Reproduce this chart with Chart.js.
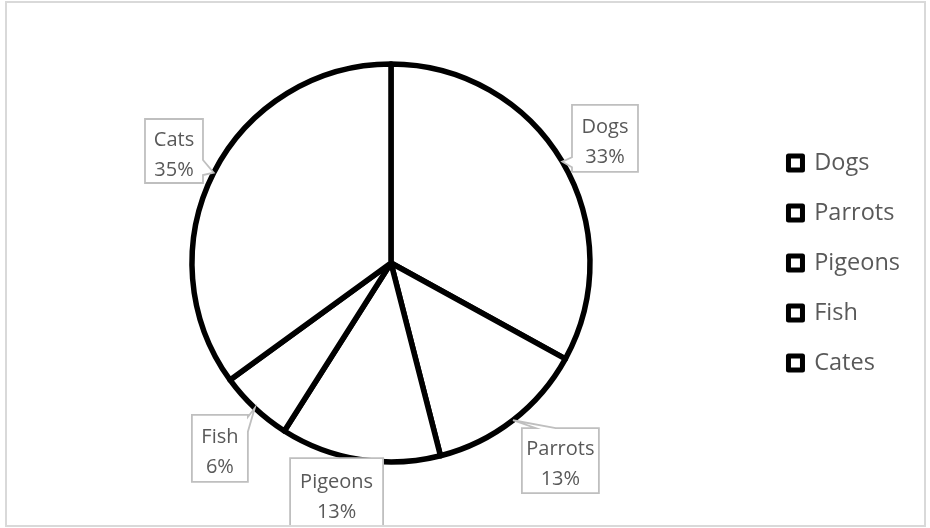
<!DOCTYPE html>
<html><head><meta charset="utf-8">
<script src="https://cdn.jsdelivr.net/npm/chart.js@4"></script>
<style>html,body{margin:0;padding:0;background:#fff}#wrap{width:930px;height:528px;position:relative}</style>
</head><body><div id="wrap"><canvas id="c" width="930" height="528"></canvas></div>
<script>
// ---- data ----
const categories = ['Dogs', 'Parrots', 'Pigeons', 'Fish', 'Cates'];
const calloutNames = ['Dogs', 'Parrots', 'Pigeons', 'Fish', 'Cats'];
const shares = [33, 13, 13, 6, 35];

// ---- callout layout (styles / placement relative to each slice) ----
const calloutLayout = [
  {da: 0.4,  d: 48.6, w: 66, h: 67, side: 'left',  b0: 0.78, b1: 0.93},
  {da: -2.8, d: 61.3, w: 77, h: 65, side: 'top',   b0: 0.18, b1: 0.44},
  {da: 4.3,  d: 37.4, w: 93, h: 70, side: null},
  {da: -0.5, d: 53.3, w: 56, h: 67, side: 'right', b0: 0.03, b1: 0.25},
  {da: 0.3,  d: 45.2, w: 58, h: 64, side: 'right', b0: 0.64, b1: 0.875}
];

const calloutPlugin = {
  id: 'callouts',
  afterDatasetsDraw(chart) {
    const ctx = chart.ctx;
    const meta = chart.getDatasetMeta(0);
    const total = shares.reduce((a, b) => a + b, 0);
    ctx.save();
    ctx.beginPath(); ctx.rect(7, 3, 917, 522); ctx.clip();
    meta.data.forEach((arc, i) => {
      const p = arc.getProps(['x', 'y', 'startAngle', 'endAngle', 'outerRadius'], true);
      const L = calloutLayout[i];
      const mid = (p.startAngle + p.endAngle) / 2;
      const tx = p.x + Math.cos(mid) * p.outerRadius;
      const ty = p.y + Math.sin(mid) * p.outerRadius;
      const a = mid + L.da * Math.PI / 180;
      const cx = p.x + Math.cos(a) * (p.outerRadius + L.d);
      const cy = p.y + Math.sin(a) * (p.outerRadius + L.d);
      const l = cx - L.w / 2, r = cx + L.w / 2, t = cy - L.h / 2, b = cy + L.h / 2;
      ctx.beginPath();
      ctx.moveTo(l, t);
      if (L.side === 'top') { ctx.lineTo(l + L.w * L.b0, t); ctx.lineTo(tx, ty); ctx.lineTo(l + L.w * L.b1, t); }
      ctx.lineTo(r, t);
      if (L.side === 'right') { ctx.lineTo(r, t + L.h * L.b0); ctx.lineTo(tx, ty); ctx.lineTo(r, t + L.h * L.b1); }
      ctx.lineTo(r, b);
      ctx.lineTo(l, b);
      if (L.side === 'left') { ctx.lineTo(l, t + L.h * L.b1); ctx.lineTo(tx, ty); ctx.lineTo(l, t + L.h * L.b0); }
      ctx.closePath();
      ctx.fillStyle = '#ffffff';
      ctx.fill();
      ctx.lineWidth = 1.8;
      ctx.lineJoin = 'miter';
      ctx.strokeStyle = '#bfbfbf';
      ctx.stroke();
      ctx.fillStyle = '#595959';
      ctx.font = '20px "Open Sans"';
      ctx.textAlign = 'center';
      ctx.textBaseline = 'alphabetic';
      ctx.fillText(calloutNames[i], cx, cy - 5.4);
      ctx.fillText(Math.round(shares[i] / total * 100) + '%', cx, cy + 24.6);
    });
    ctx.restore();
  },
  afterDraw(chart) {
    const ctx = chart.ctx;
    ctx.save();
    ctx.strokeStyle = '#d9d9d9';
    ctx.lineWidth = 2;
    ctx.strokeRect(6, 2, 919, 524);
    ctx.restore();
  }
};

const baseGen = Chart.overrides.pie.plugins.legend.labels.generateLabels;

new Chart(document.getElementById('c'), {
  type: 'pie',
  data: {
    labels: categories,
    datasets: [{
      data: shares,
      backgroundColor: '#ffffff',
      borderColor: '#000000',
      borderWidth: 5.5,
      borderJoinStyle: 'round',
      radius: 199
    }]
  },
  options: {
    responsive: false,
    animation: false,
    events: [],
    layout: {padding: {left: 20, right: 20, top: 40, bottom: 42}},
    plugins: {
      tooltip: {enabled: false},
      legend: {
        position: 'right',
        labels: {
          boxWidth: 14,
          boxHeight: 14,
          padding: 26.5,
          color: '#595959',
          font: {family: '"Open Sans"', size: 23.5},
          generateLabels(chart) {
            return baseGen(chart).map(it => Object.assign(it, {lineJoin: 'round', lineWidth: 5}));
          }
        }
      }
    }
  },
  plugins: [calloutPlugin]
});
</script>
</body></html>
